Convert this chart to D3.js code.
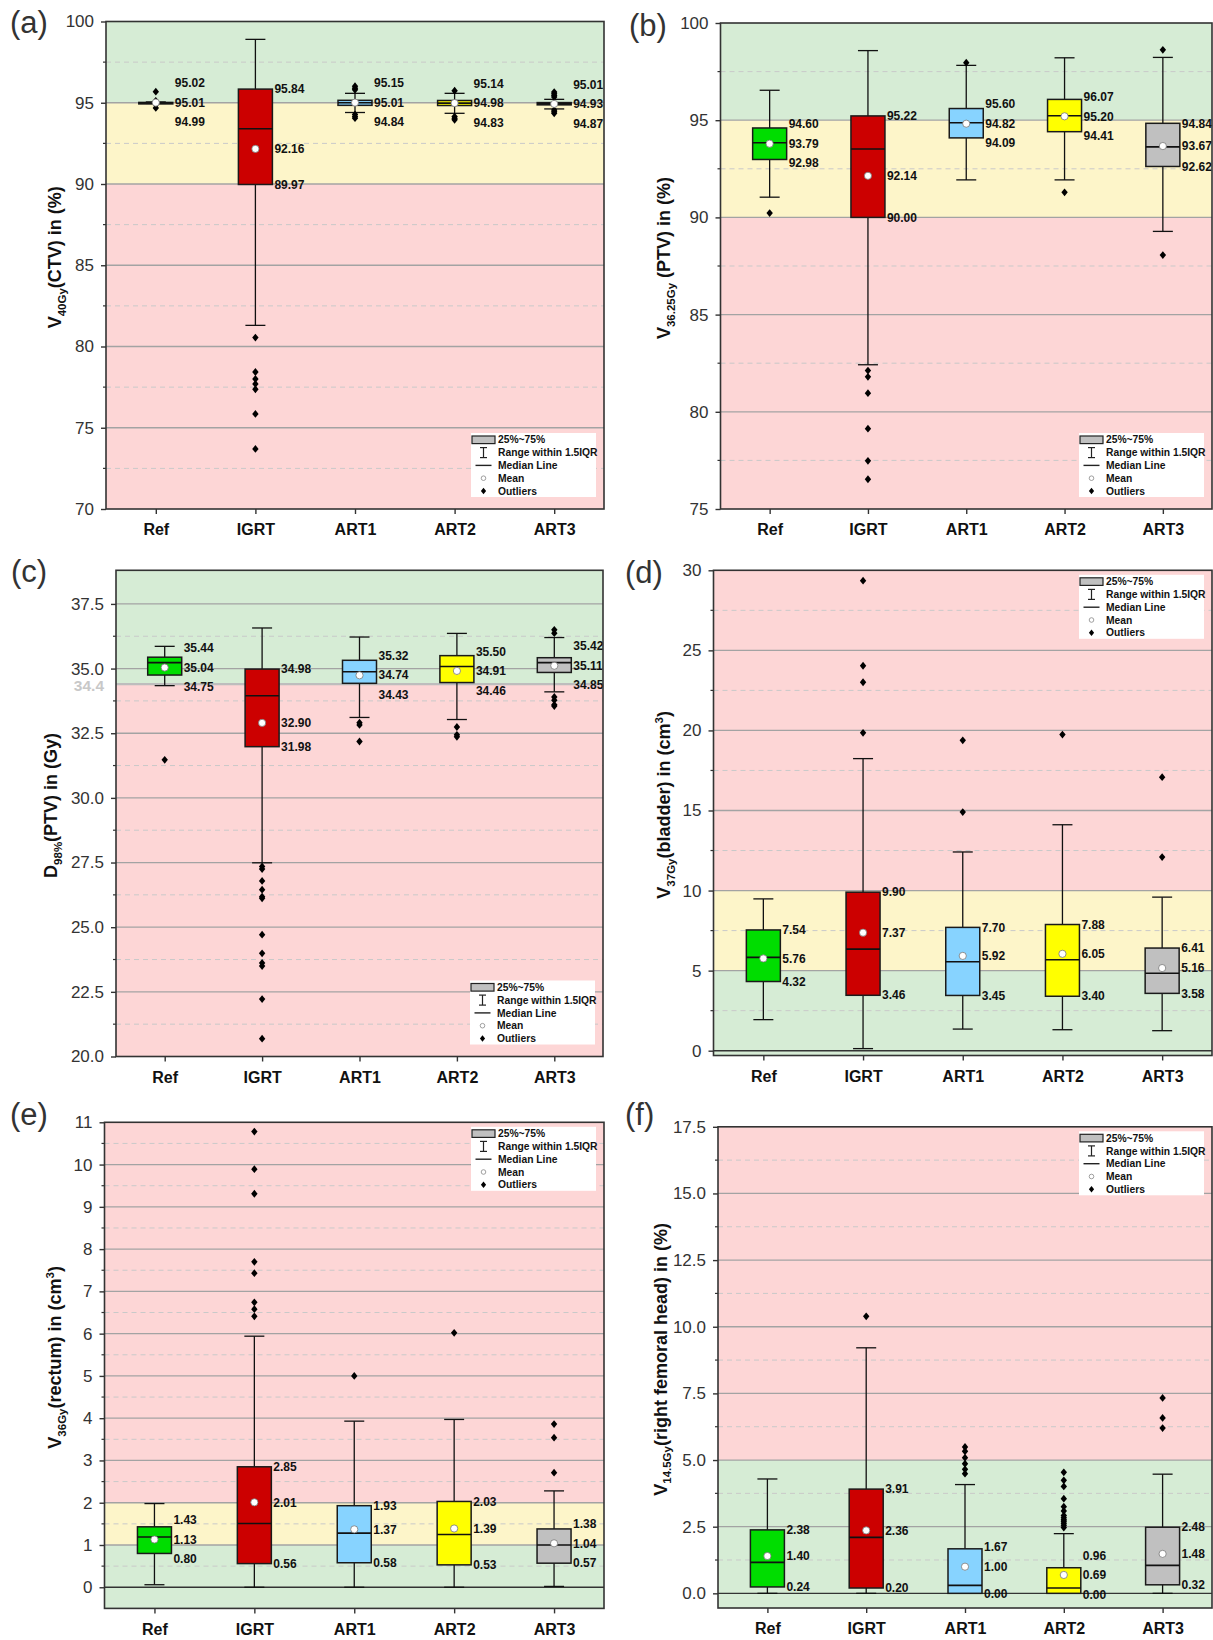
<!DOCTYPE html>
<html><head><meta charset="utf-8">
<script src="https://cdn.jsdelivr.net/npm/d3@7"></script>
<style>
body{margin:0;background:#fff}
svg{display:block}
text{font-family:"Liberation Sans",Arial,sans-serif}
</style>
</head><body>
<svg id="chart" width="1213" height="1640"></svg>
<script>
// ---------- categories ----------
const categories = ["Ref","IGRT","ART1","ART2","ART3"];
const boxColors = ["#00dd00","#cc0000","#87d3ff","#ffff00","#c0c0c0"];

// ---------- (a) V40Gy(CTV) ----------
const aQ1  = [94.99, 89.97, 94.84, 94.83, 94.87];
const aMed = [95.00, 93.40, 95.00, 94.98, 94.93];
const aQ3  = [95.02, 95.84, 95.15, 95.14, 95.01];
const aMean= [95.01, 92.16, 95.01, 94.98, 94.93];
const aLo  = [94.96, 81.30, 94.40, 94.35, 94.62];
const aHi  = [95.05, 98.90, 95.58, 95.58, 95.21];
const aOut = [[95.68,95.12,95.08,94.92,94.88,94.68],
              [80.55,78.43,78.0,77.7,77.37,75.85,73.7],
              [96.02,95.9,95.8,94.28,94.15,94.05],
              [95.74,94.15,94.05,93.95],
              [95.66,95.55,95.45,95.35,94.55,94.45,94.35]];
const aTicks = [70,75,80,85,90,95,100];
const aZoneEdges = [70,90,95,100];
const aZoneKinds = ["red","yellow","green"];

// ---------- (b) V36.25Gy(PTV) ----------
const bQ1  = [92.98, 90.00, 94.09, 94.41, 92.62];
const bMed = [93.84, 93.52, 94.87, 95.23, 93.63];
const bQ3  = [94.60, 95.22, 95.60, 96.07, 94.84];
const bMean= [93.79, 92.14, 94.82, 95.20, 93.67];
const bLo  = [91.04, 82.42, 91.93, 91.93, 89.28];
const bHi  = [96.54, 98.58, 97.82, 98.21, 98.23];
const bOut = [[90.22],[82.12,81.8,80.96,79.13,77.48,76.53],[97.96],[91.29],[98.62,88.06]];
const bTicks = [75,80,85,90,95,100];
const bZoneEdges = [75,90,95,100];
const bZoneKinds = ["red","yellow","green"];

// ---------- (c) D98%(PTV) ----------
const cQ1  = [34.75, 31.98, 34.43, 34.46, 34.85];
const cMed = [35.23, 33.95, 34.88, 35.08, 35.23];
const cQ3  = [35.44, 34.98, 35.32, 35.50, 35.42];
const cMean= [35.04, 32.90, 34.74, 34.91, 35.11];
const cLo  = [34.34, 27.49, 33.11, 33.03, 34.10];
const cHi  = [35.86, 36.57, 36.22, 36.36, 36.20];
const cOut = [[31.47],
              [27.35,27.25,26.79,26.45,26.18,26.12,24.71,23.99,23.62,23.5,22.22,20.69],
              [32.91,32.82,32.18],
              [32.74,32.44,32.36],
              [36.5,36.37,33.9,33.78,33.6,33.55]];
const cTicks = [20,22.5,25,27.5,30,32.5,35,37.5];
const cZoneEdges = [20,34.4,38.8];
const cZoneKinds = ["red","green"];
const cThreshold = 34.4;

// ---------- (d) V37Gy(bladder) ----------
const dQ1  = [4.32, 3.46, 3.45, 3.40, 3.58];
const dMed = [5.83, 6.34, 5.55, 5.68, 4.84];
const dQ3  = [7.54, 9.90, 7.70, 7.88, 6.41];
const dMean= [5.76, 7.37, 5.92, 6.05, 5.16];
const dLo  = [1.94, 0.13, 1.35, 1.31, 1.25];
const dHi  = [9.48, 18.24, 12.41, 14.11, 9.59];
const dOut = [[],[29.35,24.04,23.01,19.85],[19.38,14.9],[19.74],[17.08,12.09]];
const dTicks = [0,5,10,15,20,25,30];
const dZoneEdges = [-0.3,5,10,30];
const dZoneKinds = ["green","yellow","red"];

// ---------- (e) V36Gy(rectum) ----------
const eQ1  = [0.80, 0.56, 0.58, 0.53, 0.57];
const eMed = [1.19, 1.51, 1.28, 1.25, 1.00];
const eQ3  = [1.43, 2.85, 1.93, 2.03, 1.38];
const eMean= [1.13, 2.01, 1.37, 1.39, 1.04];
const eLo  = [0.06, 0.00, 0.00, 0.00, 0.02];
const eHi  = [1.98, 5.94, 3.93, 3.97, 2.28];
const eOut = [[],[10.78,9.89,9.31,7.7,7.43,6.74,6.58,6.41],[5.0],[6.02],[3.86,3.54,2.71]];
const eTicks = [0,1,2,3,4,5,6,7,8,9,10,11];
const eZoneEdges = [-0.5,1,2,11];
const eZoneKinds = ["green","yellow","red"];

// ---------- (f) V14.5Gy(right femoral head) ----------
const fQ1  = [0.24, 0.20, 0.00, 0.00, 0.32];
const fMed = [1.16, 2.10, 0.30, 0.20, 1.05];
const fQ3  = [2.38, 3.91, 1.67, 0.96, 2.48];
const fMean= [1.40, 2.36, 1.00, 0.69, 1.48];
const fLo  = [0, 0, 0, 0, 0];
const fHi  = [4.29, 9.21, 4.08, 2.24, 4.47];
const fOut = [[],[10.39],[4.49,4.65,4.86,5.09,5.33,5.49],
              [2.47,2.55,2.63,2.7,2.76,2.84,2.92,3.09,3.25,3.55,4.01,4.24,4.54],
              [7.33,6.58,6.2]];
const fTicks = [0,2.5,5,7.5,10,12.5,15,17.5];
const fZoneEdges = [-0.55,5,17.5];
const fZoneKinds = ["green","red"];

const legendLabels = ["25%~75%","Range within 1.5IQR","Median Line","Mean","Outliers"];

// ---------- layout ----------
const zoneColor = {green:"#d6ecd5", yellow:"#fdf5c9", red:"#fdd6d6"};
const panels = [
 {letter:"(a)", lx:10, ly:33, left:106, right:604, top:21.5, bottom:509, domain:[70,100], ticks:aTicks, fmt:d3.format("d"),
  q1:aQ1, med:aMed, q3:aQ3, mean:aMean, lo:aLo, hi:aHi, out:aOut, edges:aZoneEdges, kinds:aZoneKinds,
  title:[["V",""],["40Gy","sub"],["(CTV) in (%)",""]], titleX:61, legend:"bottom"},
 {letter:"(b)", lx:629, ly:36, left:720.5, right:1212, top:23, bottom:509, domain:[75,100], ticks:bTicks, fmt:d3.format("d"),
  q1:bQ1, med:bMed, q3:bQ3, mean:bMean, lo:bLo, hi:bHi, out:bOut, edges:bZoneEdges, kinds:bZoneKinds,
  title:[["V",""],["36.25Gy","sub"],[" (PTV) in (%)",""]], titleX:670, legend:"bottom"},
 {letter:"(c)", lx:11, ly:582, left:116, right:603, top:570.3, bottom:1056.5, domain:[20,38.8], ticks:cTicks, fmt:d3.format(".1f"),
  q1:cQ1, med:cMed, q3:cQ3, mean:cMean, lo:cLo, hi:cHi, out:cOut, edges:cZoneEdges, kinds:cZoneKinds,
  title:[["D",""],["98%","sub"],["(PTV) in (Gy)",""]], titleX:57, legend:"bottom", threshold:cThreshold},
 {letter:"(d)", lx:625, ly:583, left:713.5, right:1212, top:570.3, bottom:1055.5, domain:[-0.3,30], ticks:dTicks, fmt:d3.format("d"),
  q1:dQ1, med:dMed, q3:dQ3, mean:dMean, lo:dLo, hi:dHi, out:dOut, edges:dZoneEdges, kinds:dZoneKinds,
  title:[["V",""],["37Gy","sub"],["(bladder) in (cm",""],["3","sup"],[")",""]], titleX:670, legend:"top", zeroLine:true},
 {letter:"(e)", lx:10, ly:1125, left:104.5, right:604, top:1122.3, bottom:1608.4, domain:[-0.5,11], ticks:eTicks, fmt:d3.format("d"),
  q1:eQ1, med:eMed, q3:eQ3, mean:eMean, lo:eLo, hi:eHi, out:eOut, edges:eZoneEdges, kinds:eZoneKinds,
  title:[["V",""],["36Gy","sub"],["(rectum) in (cm",""],["3","sup"],[")",""]], titleX:61, legend:"top", zeroLine:true},
 {letter:"(f)", lx:625, ly:1125, left:718, right:1212, top:1126.8, bottom:1608, domain:[-0.55,17.5], ticks:fTicks, fmt:d3.format(".1f"),
  q1:fQ1, med:fMed, q3:fQ3, mean:fMean, lo:fLo, hi:fHi, out:fOut, edges:fZoneEdges, kinds:fZoneKinds,
  title:[["V",""],["14.5Gy","sub"],["(right femoral head) in (%)",""]], titleX:666.5, legend:"top", zeroLine:true}
];

const svg = d3.select("#chart");
const diamond = (w,h) => ({draw(ctx){ctx.moveTo(0,-h);ctx.lineTo(w,0);ctx.lineTo(0,h);ctx.lineTo(-w,0);ctx.closePath();}});
const fmt2 = d3.format(".2f");

panels.forEach(p => {
  const g = svg.append("g");
  const x = d3.scaleLinear().domain([0.5,5.5]).range([p.left,p.right]);
  const y = d3.scaleLinear().domain(p.domain).range([p.bottom,p.top]);
  const W = p.right - p.left;

  // zones
  p.kinds.forEach((k,i) => {
    g.append("rect").attr("x",p.left).attr("width",W)
      .attr("y",y(p.edges[i+1])).attr("height",y(p.edges[i])-y(p.edges[i+1]))
      .attr("fill",zoneColor[k]);
  });

  // minor grid (midpoints between ticks)
  const minors = p.ticks.slice(1).map((t,i)=> (t+p.ticks[i])/2);
  const step = p.ticks[1]-p.ticks[0];
  const below = p.ticks[0]-step/2; if (below>p.domain[0]) minors.push(below);
  g.selectAll(null).data(minors).join("line")
    .attr("x1",p.left).attr("x2",p.right).attr("y1",d=>y(d)).attr("y2",d=>y(d))
    .attr("stroke","#c9c9c9").attr("stroke-width",1).attr("stroke-dasharray","5,4");
  // major grid
  g.selectAll(null).data(p.ticks.filter(t=>t>p.domain[0] && t<p.domain[1])).join("line")
    .attr("x1",p.left).attr("x2",p.right).attr("y1",d=>y(d)).attr("y2",d=>y(d))
    .attr("stroke",d=> (p.zeroLine && d===0) ? "#333" : "#a3a3a3")
    .attr("stroke-width",d=> (p.zeroLine && d===0) ? 1.4 : 1.3);
  if (p.threshold !== undefined) {
    g.append("line").attr("x1",p.left).attr("x2",p.right)
      .attr("y1",y(p.threshold)).attr("y2",y(p.threshold))
      .attr("stroke","#bdbdbd").attr("stroke-width",2.4);
    g.append("text").attr("x",p.left-12).attr("y",y(p.threshold)+1).attr("dy","0.35em")
      .attr("text-anchor","end").style("font-size","15.5px").style("font-weight","bold")
      .attr("fill","#c8c8c8").text(p.threshold);
  }

  // boxes
  const bw = 34, cw = 20;
  categories.forEach((c,i) => {
    const cx = x(i+1);
    const bg = g.append("g");
    bg.append("line").attr("x1",cx).attr("x2",cx).attr("y1",y(p.q3[i])).attr("y2",y(p.hi[i]))
      .attr("stroke","#111").attr("stroke-width",1.3);
    bg.append("line").attr("x1",cx).attr("x2",cx).attr("y1",y(p.q1[i])).attr("y2",y(p.lo[i]))
      .attr("stroke","#111").attr("stroke-width",1.3);
    [p.hi[i],p.lo[i]].forEach(v => bg.append("line").attr("x1",cx-cw/2).attr("x2",cx+cw/2)
      .attr("y1",y(v)).attr("y2",y(v)).attr("stroke","#111").attr("stroke-width",1.3));
    bg.append("rect").attr("x",cx-bw/2).attr("width",bw)
      .attr("y",y(p.q3[i])).attr("height",Math.max(y(p.q1[i])-y(p.q3[i]),1.5))
      .attr("fill",boxColors[i]).attr("stroke","#1a1a1a").attr("stroke-width",1.5);
    bg.append("line").attr("x1",cx-bw/2).attr("x2",cx+bw/2).attr("y1",y(p.med[i])).attr("y2",y(p.med[i]))
      .attr("stroke","#111").attr("stroke-width",1.6);
    bg.selectAll(null).data(p.out[i]).join("path")
      .attr("d",d3.symbol().type(diamond(3.2,3.9))())
      .attr("transform",d=>`translate(${cx},${y(d)})`).attr("fill","#000");
    bg.append("circle").attr("cx",cx).attr("cy",y(p.mean[i])).attr("r",3.6)
      .attr("fill","#fff").attr("stroke","#777").attr("stroke-width",0.8);
    // labels
    const ym = y(p.mean[i]);
    const yt = Math.min(y(p.q3[i]), ym-19.5);
    const yb = Math.max(y(p.q1[i]), ym+19.5);
    [[p.q3[i],yt],[p.mean[i],ym],[p.q1[i],yb]].forEach(([v,yy]) => {
      bg.append("text").attr("x",cx+19).attr("y",yy).attr("dy","0.35em")
        .style("font-size","12px").style("font-weight","bold").attr("fill","#111")
        .text(fmt2(v));
    });
  });

  // legend
  const LW = 125, LH = 64;
  const lx0 = p.right - 8 - LW;
  const ly0 = p.legend === "bottom" ? p.bottom - 12 - LH : p.top + 4.5;
  const lg = g.append("g").attr("transform",`translate(${lx0},${ly0})`);
  lg.append("rect").attr("width",LW).attr("height",LH).attr("fill","#fff");
  const rowY = k => 6.8 + k*12.8;
  const sx = 12.5;
  lg.append("rect").attr("x",1).attr("y",rowY(0)-3.8).attr("width",23).attr("height",7.6)
    .attr("fill","#c0c0c0").attr("stroke","#222").attr("stroke-width",1.2);
  lg.append("line").attr("x1",sx).attr("x2",sx).attr("y1",rowY(1)-5).attr("y2",rowY(1)+5).attr("stroke","#222").attr("stroke-width",1.2);
  [-5,5].forEach(o=>lg.append("line").attr("x1",sx-3.5).attr("x2",sx+3.5).attr("y1",rowY(1)+o).attr("y2",rowY(1)+o).attr("stroke","#222").attr("stroke-width",1.2));
  lg.append("line").attr("x1",sx-8).attr("x2",sx+8).attr("y1",rowY(2)).attr("y2",rowY(2)).attr("stroke","#222").attr("stroke-width",1.4);
  lg.append("circle").attr("cx",sx).attr("cy",rowY(3)).attr("r",2.3).attr("fill","#fff").attr("stroke","#888").attr("stroke-width",0.8);
  lg.append("path").attr("d",d3.symbol().type(diamond(2.6,3.2))()).attr("transform",`translate(${sx},${rowY(4)})`).attr("fill","#000");
  legendLabels.forEach((t,k)=> lg.append("text").attr("x",27).attr("y",rowY(k)).attr("dy","0.35em")
    .style("font-size","10.3px").style("font-weight","bold").attr("fill","#111").text(t));

  // axes
  const yAxis = g.append("g").attr("transform",`translate(${p.left},0)`)
    .call(d3.axisLeft(y).tickValues(p.ticks).tickFormat(p.fmt).tickSize(5).tickPadding(7));
  yAxis.select(".domain").remove();
  yAxis.selectAll("line").attr("stroke","#333").attr("stroke-width",1.4);
  yAxis.selectAll("text").style("font-size","17px").attr("fill","#333")
    .style("font-family","'Liberation Sans',Arial,sans-serif");
  g.selectAll(null).data(minors).join("line")
    .attr("x1",p.left-3).attr("x2",p.left).attr("y1",d=>y(d)).attr("y2",d=>y(d))
    .attr("stroke","#333").attr("stroke-width",1.2);

  const xAxis = g.append("g").attr("transform",`translate(0,${p.bottom})`)
    .call(d3.axisBottom(x).tickValues([1,2,3,4,5]).tickFormat(d=>categories[d-1]).tickSize(5).tickPadding(10));
  xAxis.select(".domain").remove();
  xAxis.selectAll("line").attr("stroke","#333").attr("stroke-width",1.4);
  xAxis.selectAll("text").style("font-size","16px").style("font-weight","bold").attr("fill","#111")
    .style("font-family","'Liberation Sans',Arial,sans-serif");

  // frame
  g.append("rect").attr("x",p.left).attr("y",p.top).attr("width",W).attr("height",p.bottom-p.top)
    .attr("fill","none").attr("stroke","#333").attr("stroke-width",1.6);

  // title
  const cy = (p.top+p.bottom)/2 - 8;
  const tt = g.append("text").attr("transform",`translate(${p.titleX},${cy}) rotate(-90)`)
    .attr("text-anchor","middle").style("font-size","18px").style("font-weight","bold").attr("fill","#111");
  let shift = 0;
  p.title.forEach(([s,k]) => {
    const target = k==="sub" ? 4.5 : (k==="sup" ? -7 : 0);
    const ts = tt.append("tspan").attr("dy", target-shift).text(s);
    if (k) ts.style("font-size","11.5px");
    shift = target;
  });

  // panel letter
  g.append("text").attr("x",p.lx).attr("y",p.ly).style("font-size","31px").attr("fill","#333").text(p.letter);
});
</script>
</body></html>
